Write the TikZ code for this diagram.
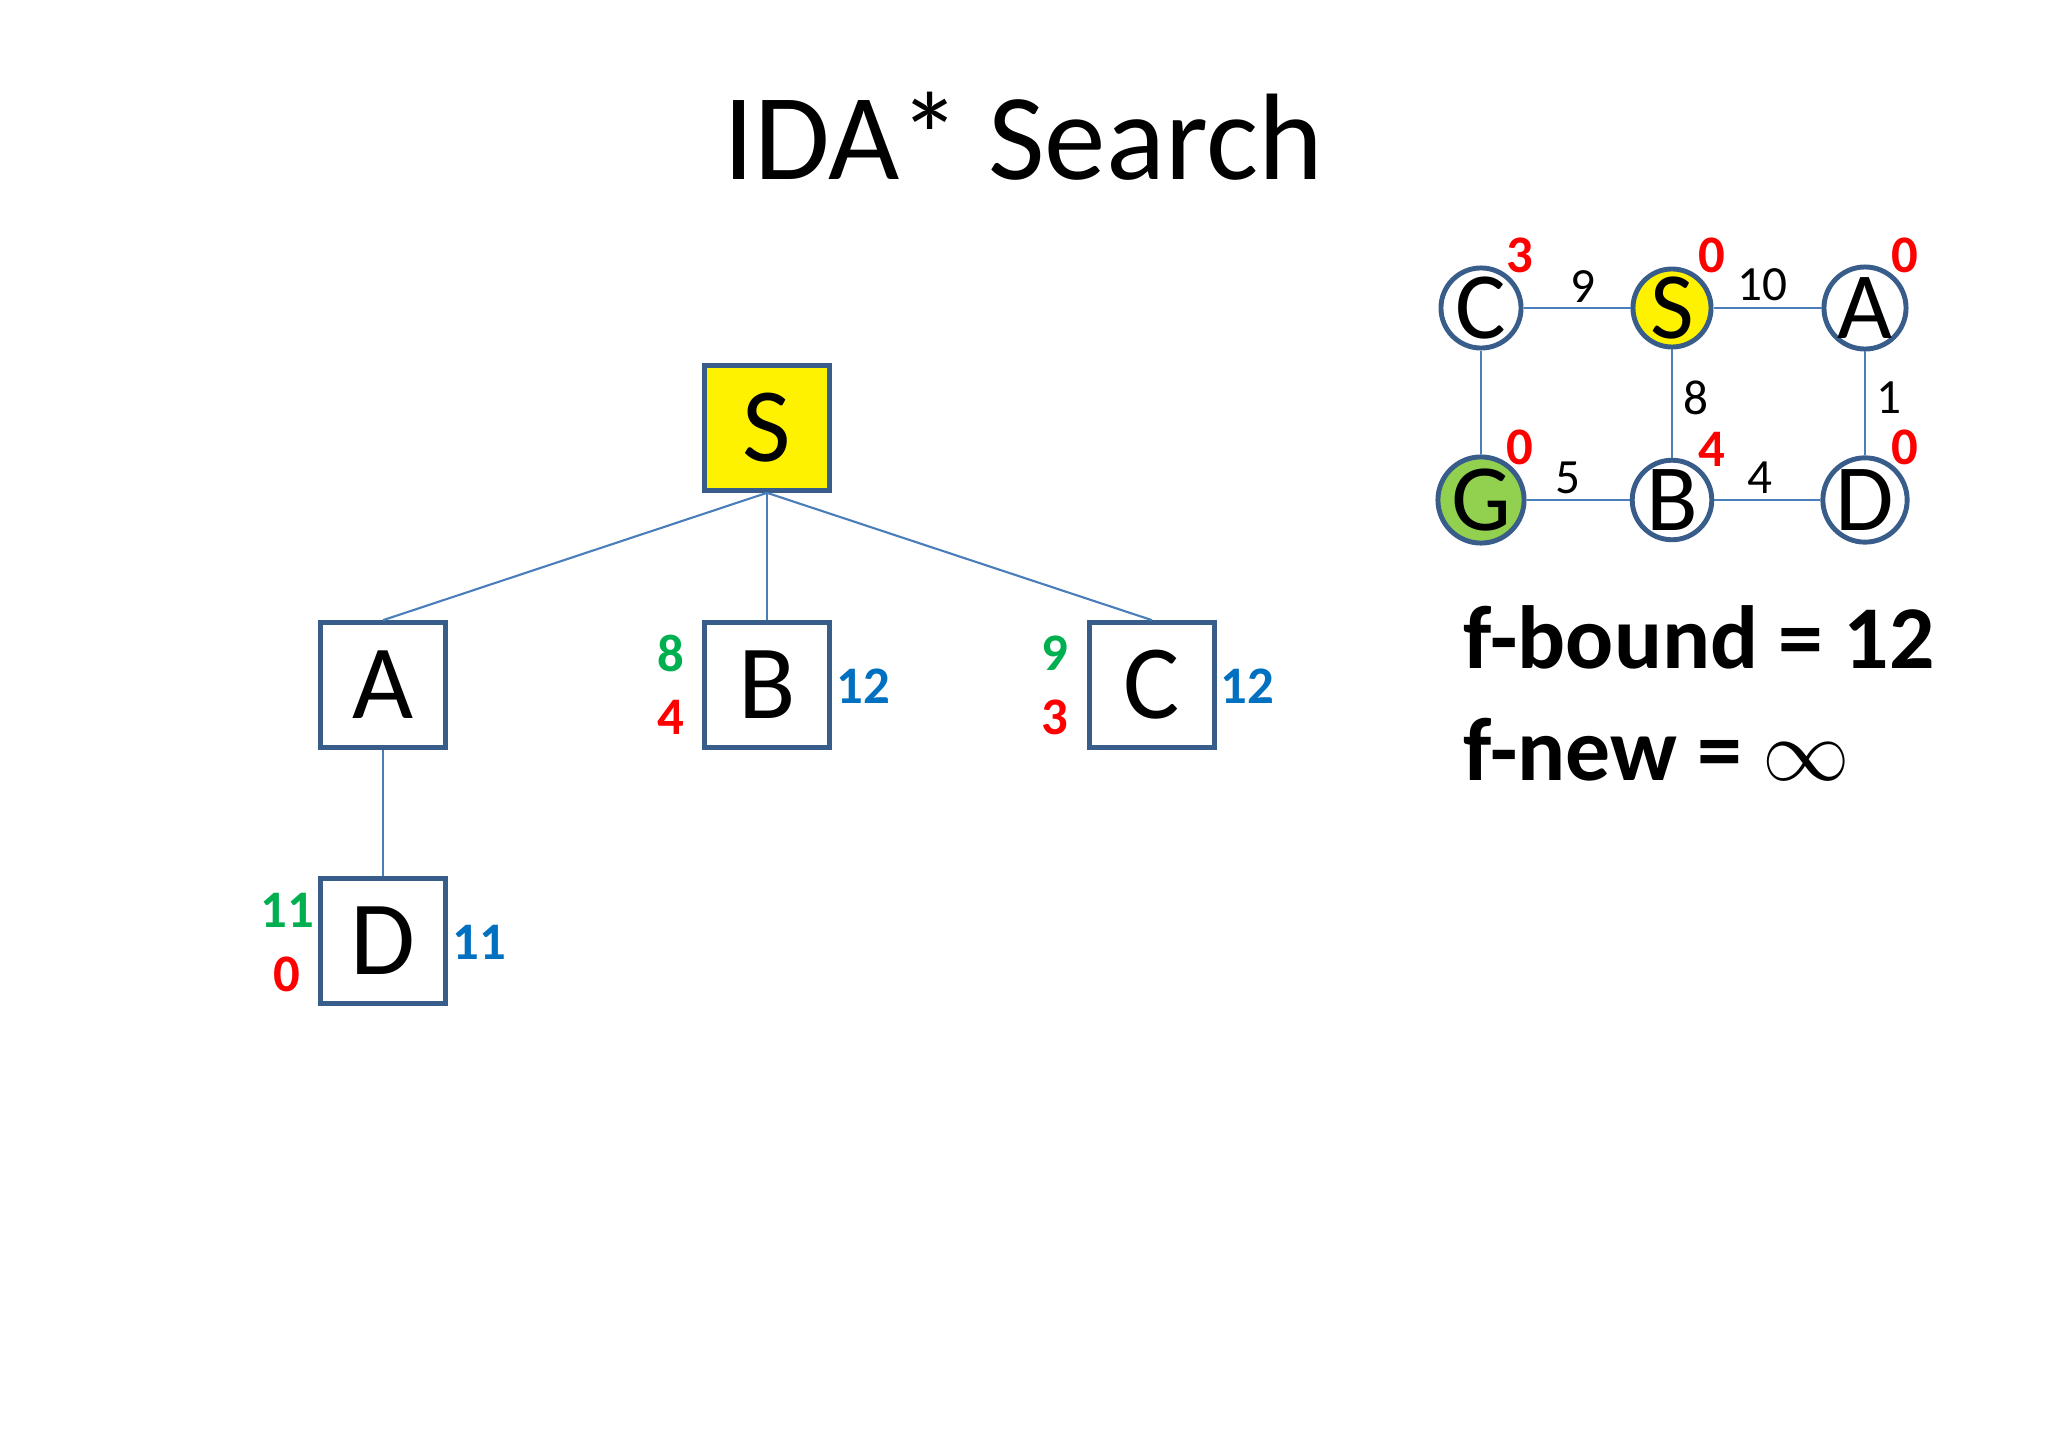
\documentclass[tikz,border=0pt]{standalone}
\usepackage{fontspec}
\setmainfont{Carlito}
\usepackage{tikz}
\usetikzlibrary{positioning}
\definecolor{boxline}{HTML}{385D8A}
\definecolor{edgeblue}{HTML}{4A7EBB}
\definecolor{gcol}{HTML}{00B050}
\definecolor{hcol}{HTML}{FF0000}
\definecolor{fcol}{HTML}{0070C0}
\definecolor{goalgreen}{HTML}{92D050}
\tikzset{
    treebox/.style={
        rectangle,
        draw=boxline,
        line width=1.3pt,
        fill=white,
        minimum width=1.25cm,
        minimum height=1.25cm,
        inner sep=0pt,
        font=\fontsize{30}{36}\selectfont
    },
    gnode/.style={
        circle,
        draw=boxline,
        line width=1.4pt,
        fill=white,
        minimum size=0.78cm,
        inner sep=0pt,
        font=\fontsize{27}{32}\selectfont
    },
    link/.style={draw=edgeblue, line width=0.6pt},
    gval/.style={text=gcol, inner sep=0pt, font=\bfseries\fontsize{15}{18}\selectfont},
    hval/.style={text=hcol, inner sep=0pt, font=\bfseries\fontsize{15}{18}\selectfont},
    fval/.style={text=fcol, inner sep=0pt, font=\bfseries\fontsize{15}{18}\selectfont},
    cost/.style={inner sep=0pt, font=\fontsize{14}{17}\selectfont}
}

\begin{document}
\begin{tikzpicture}[x=0.01cm, y=-0.01cm]
        \useasboundingbox (0,0) rectangle (2048,1434);

        % Titolo
        \node[anchor=base, inner sep=0pt, font=\fontsize{35}{42}\selectfont] (title) at (1023,180) {IDA* Search};

        % Albero di ricerca
        \node[treebox, fill=yellow] (S) at (767,428) {S};
        \node[treebox] (A) at (383,685) {A};
        \node[treebox] (B) at (767,685) {B};
        \node[treebox] (C) at (1152,685) {C};
        \node[treebox] (D) at (383,941) {D};

        \draw[link] (S.south) -- (A.north);
        \draw[link] (S.south) -- (B.north);
        \draw[link] (S.south) -- (C.north);
        \draw[link] (A.south) -- (D.north);

        % Valori g, h, f
        \node[gval] (gB) at (671,653) {8};
        \node[hval] (hB) at (671,717) {4};
        \node[fval] (fB) at (863,686) {12};
        \node[gval] (gC) at (1055,653) {9};
        \node[hval] (hC) at (1055,717) {3};
        \node[fval] (fC) at (1247,686) {12};
        \node[gval] (gD) at (287,910) {11};
        \node[hval] (hD) at (287,974) {0};
        \node[fval] (fD) at (479,942) {11};

        % Grafo
        \node[gnode] (gc) at (1481,308) {C};
        \node[gnode, fill=yellow] (gs) at (1672,308) {S};
        \node[gnode] (ga) at (1865,308) {A};
        \node[gnode, fill=goalgreen] (gg) at (1481,500) {G};
        \node[gnode] (gb) at (1672,500) {B};
        \node[gnode] (gd) at (1865,500) {D};

        \draw[link] (gc) -- (gs);
        \draw[link] (gs) -- (ga);
        \draw[link] (gc) -- (gg);
        \draw[link] (gs) -- (gb);
        \draw[link] (ga) -- (gd);
        \draw[link] (gg) -- (gb);
        \draw[link] (gb) -- (gd);

        % Costi degli archi
        \node[cost] (c9) at (1583,287) {9};
        \node[cost] (c10) at (1762,285) {10};
        \node[cost] (c8) at (1696,398) {8};
        \node[cost] (c1) at (1889,398) {1};
        \node[cost] (c5) at (1568,478) {5};
        \node[cost] (c4) at (1760,478) {4};

        % Euristiche
        \node[hval] (hgc) at (1520,255) {3};
        \node[hval] (hgs) at (1712,255) {0};
        \node[hval] (hga) at (1905,255) {0};
        \node[hval] (hgg) at (1520,447) {0};
        \node[hval] (hgb) at (1712,449) {4};
        \node[hval] (hgd) at (1905,447) {0};

        % Limiti
        \node[anchor=base west, inner sep=0pt, font=\bfseries\fontsize{25.5}{30}\selectfont] (fbound) at (1463,669) {f-bound = 12};
        \node[anchor=base west, inner sep=0pt, font=\bfseries\fontsize{25.5}{30}\selectfont] (fnew) at (1463,781) {f-new = {\mdseries$\infty$}};
    \end{tikzpicture}
\end{document}
